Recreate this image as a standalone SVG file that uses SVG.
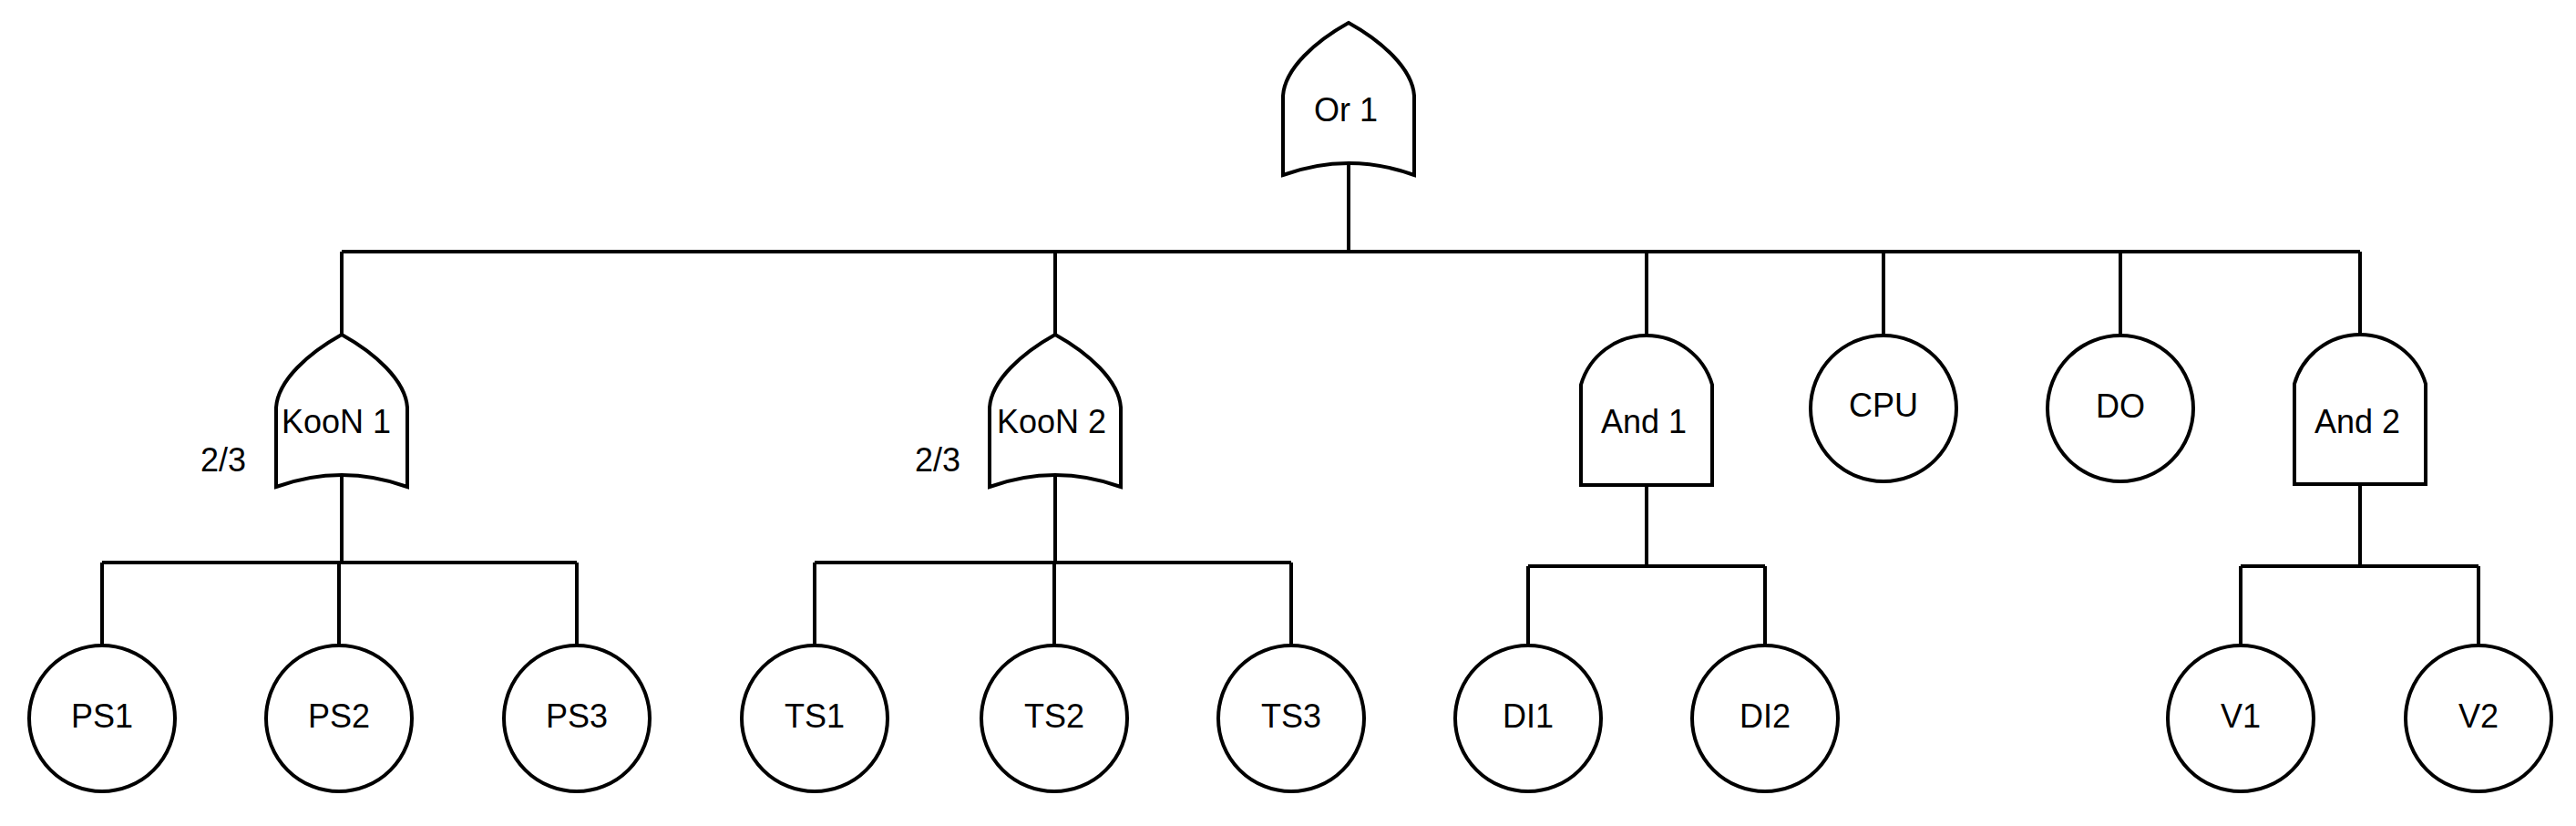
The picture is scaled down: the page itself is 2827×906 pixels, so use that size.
<svg xmlns="http://www.w3.org/2000/svg" width="2827" height="906" viewBox="0 0 2827 906">
<style>
.s{fill:none;stroke:#000;stroke-width:4}
.n{fill:#fff;stroke:#000;stroke-width:4}
.t{font-family:"Liberation Sans",Arial,sans-serif;font-size:36px;fill:#000;text-anchor:middle}
</style>
<defs>
<path id="orShape" d="M-72,80 L-72,167 Q0,141 72,167 L72,80 C70,50 36,20 0,0 C-36,20 -70,50 -72,80 Z"/>
<path id="andShape" d="M-72,54 L-72,164 L72,164 L72,54 A75,75 0 0 0 -72,54 Z"/>
</defs>
<rect width="2827" height="906" fill="#fff"/>
<g id="connectors" class="s">
<path d="M1480,179 V276 M375,276 H2590 M375,276 V367 M1158,276 V367 M1807,276 V368 M2067,276 V368 M2327,276 V368 M2590,276 V367"/>
<path d="M375,523 V617 M112,617 H633 M112,617 V708 M372,617 V708 M633,617 V708"/>
<path d="M1158,523 V617 M894,617 H1417 M894,617 V708 M1157,617 V708 M1417,617 V708"/>
<path d="M1807,532 V621 M1677,621 H1937 M1677,621 V708 M1937,621 V708"/>
<path d="M2590,532 V621 M2459,621 H2720 M2459,621 V708 M2720,621 V708"/>
</g>
<g id="or1"><use href="#orShape" class="n" transform="translate(1480,25)"/><text class="t" x="1477" y="133">Or 1</text></g>
<g id="koon1"><use href="#orShape" class="n" transform="translate(375,367)"/><text class="t" x="369" y="475">KooN 1</text><text class="t" x="245" y="517">2/3</text></g>
<g id="koon2"><use href="#orShape" class="n" transform="translate(1158,367)"/><text class="t" x="1154" y="475">KooN 2</text><text class="t" x="1029" y="517">2/3</text></g>
<g id="and1"><use href="#andShape" class="n" transform="translate(1807,368)"/><text class="t" x="1804" y="475">And 1</text></g>
<g id="cpu"><circle class="n" cx="2067" cy="448" r="80"/><text class="t" x="2067" y="457">CPU</text></g>
<g id="do"><circle class="n" cx="2327" cy="448" r="80"/><text class="t" x="2327" y="458">DO</text></g>
<g id="and2"><use href="#andShape" class="n" transform="translate(2590,367)"/><text class="t" x="2587" y="475">And 2</text></g>
<g id="ps1"><circle class="n" cx="112" cy="788" r="80"/><text class="t" x="112" y="798">PS1</text></g>
<g id="ps2"><circle class="n" cx="372" cy="788" r="80"/><text class="t" x="372" y="798">PS2</text></g>
<g id="ps3"><circle class="n" cx="633" cy="788" r="80"/><text class="t" x="633" y="798">PS3</text></g>
<g id="ts1"><circle class="n" cx="894" cy="788" r="80"/><text class="t" x="894" y="798">TS1</text></g>
<g id="ts2"><circle class="n" cx="1157" cy="788" r="80"/><text class="t" x="1157" y="798">TS2</text></g>
<g id="ts3"><circle class="n" cx="1417" cy="788" r="80"/><text class="t" x="1417" y="798">TS3</text></g>
<g id="di1"><circle class="n" cx="1677" cy="788" r="80"/><text class="t" x="1677" y="798">DI1</text></g>
<g id="di2"><circle class="n" cx="1937" cy="788" r="80"/><text class="t" x="1937" y="798">DI2</text></g>
<g id="v1"><circle class="n" cx="2459" cy="788" r="80"/><text class="t" x="2459" y="798">V1</text></g>
<g id="v2"><circle class="n" cx="2720" cy="788" r="80"/><text class="t" x="2720" y="798">V2</text></g>
</svg>
